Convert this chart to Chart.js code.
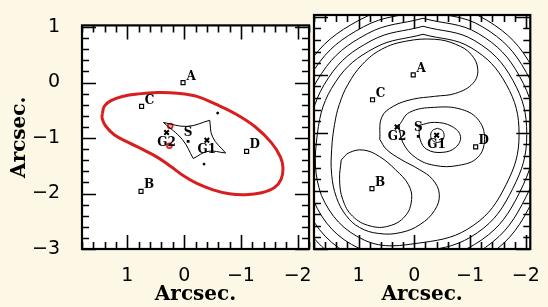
<!DOCTYPE html>
<html>
<head>
<meta charset="utf-8">
<title>Lens model</title>
<script src="https://cdn.jsdelivr.net/npm/chart.js"></script>
<style>
  html, body { margin: 0; padding: 0; background: #fdf8e5; }
  #wrap { position: relative; width: 548px; height: 307px; overflow: hidden; }
  #wrap canvas { position: absolute; top: 0; }
  #left { left: 0; }
  #right { left: 300px; }
</style>
</head>
<body>
<div id="wrap">
  <canvas id="left" width="320" height="307"></canvas>
  <canvas id="right" width="248" height="307"></canvas>
</div>
<script>
// positions in arcsec
const imageNames = ['A', 'B', 'C', 'D'];
const imageX = [0.02, 0.76, 0.75, -1.1];
const imageY = [0.0, -1.96, -0.43, -1.24];

const galaxyNames = ['G1', 'G2'];
const galaxyX = [-0.4, 0.31];
const galaxyY = [-1.04, -0.9];

const sourceNames = ['S'];
const sourceX = [-0.07];
const sourceY = [-1.06];

const xTickValues = [1, 0, -1, -2];
const yTickValues = [1, 0, -1, -2, -3];

// left panel: critical curve (red) and caustic (black)
const criticalCurve = [
  [1.444, -0.566], [1.404, -0.422], [1.29, -0.325], [1.09, -0.25], [0.805, -0.204],
  [0.462, -0.181], [0.12, -0.193], [-0.223, -0.25], [-0.565, -0.394], [-0.908, -0.566],
  [-1.25, -0.797], [-1.536, -1.083], [-1.695, -1.341], [-1.741, -1.543], [-1.707, -1.745],
  [-1.592, -1.893], [-1.365, -1.986], [-1.079, -2.02], [-0.793, -2.003], [-0.508, -1.934],
  [-0.223, -1.819], [0.005, -1.686], [0.234, -1.514], [0.462, -1.353], [0.69, -1.227],
  [0.976, -1.083], [1.233, -0.94], [1.387, -0.779], [1.444, -0.652], [1.444, -0.566]
];
const causticTop = [[0.365, -0.72], [-0.05, -0.79], [-0.45, -0.68]];
const causticRight = [[-0.45, -0.68], [-0.5, -0.98], [-0.73, -1.27]];
const causticBottom = [[-0.73, -1.27], [-0.42, -1.24], [-0.16, -1.37]];
const causticLeft = [[-0.16, -1.37], [0.03, -1.03], [0.365, -0.72]];
const extraImagesX = [-0.59, -0.35];
const extraImagesY = [-0.55, -1.47];
const redSpotsX = [0.245, 0.26];
const redSpotsY = [-0.785, -1.14];

// right panel: arrival-time contours
const contourG1Inner = [
  [-0.414, -0.922], [-0.5, -0.957], [-0.534, -1.043], [-0.5, -1.129], [-0.414, -1.164],
  [-0.328, -1.129], [-0.293, -1.043], [-0.328, -0.957], [-0.414, -0.922]
];
const contourG1Mid = [
  [-0.086, -0.871], [-0.362, -0.819], [-0.672, -0.888], [-0.828, -1.06], [-0.741, -1.25],
  [-0.5, -1.336], [-0.224, -1.284], [-0.103, -1.112], [-0.086, -0.871]
];
const contourG1Outer = [
  [0.276, -0.871], [0.086, -0.647], [-0.362, -0.56], [-0.845, -0.595], [-1.155, -0.784],
  [-1.259, -1.112], [-1.138, -1.422], [-0.793, -1.56], [-0.362, -1.56], [-0.017, -1.422],
  [0.207, -1.164], [0.276, -0.871]
];
const contourB = [
  [1.312, -1.466], [1.341, -1.807], [1.284, -2.148], [1.111, -2.432], [0.795, -2.603],
  [0.451, -2.603], [0.164, -2.432], [0.049, -2.148], [0.106, -1.892], [0.336, -1.637],
  [0.623, -1.409], [0.91, -1.296], [1.169, -1.341], [1.312, -1.466]
];
const contourLobes = [
  [0.621, -1.112], [0.586, -0.733], [0.379, -0.543], [0.034, -0.422], [-0.362, -0.371],
  [-0.741, -0.319], [-1.052, -0.147], [-1.138, 0.095], [-1.017, 0.353], [-0.741, 0.526],
  [-0.362, 0.612], [0.155, 0.578], [0.586, 0.44], [0.931, 0.181], [1.19, -0.164],
  [1.345, -0.509], [1.431, -0.853], [1.483, -1.284], [1.483, -1.716], [1.397, -2.112],
  [1.224, -2.422], [0.983, -2.629], [0.638, -2.733], [0.241, -2.716], [-0.103, -2.578],
  [-0.362, -2.336], [-0.448, -2.06], [-0.328, -1.802], [-0.086, -1.629], [0.241, -1.457],
  [0.5, -1.284], [0.621, -1.112]
];
const contourRing1 = [
  [-0.155, 0.698], [-1.017, 0.467], [-1.648, -0.164], [-1.879, -1.026], [-1.648, -1.888],
  [-1.06, -2.593], [-0.155, -2.888], [0.897, -2.848], [1.667, -2.078], [1.741, -1.026],
  [1.412, -0.121], [0.707, 0.467], [-0.155, 0.698]
];
const contourRing2 = [
  [-0.155, 0.836], [-1.086, 0.586], [-1.767, -0.095], [-2.017, -1.026], [-1.767, -1.957],
  [-1.133, -2.719], [-0.155, -3.036], [0.981, -2.993], [1.812, -2.162], [1.893, -1.026],
  [1.538, -0.048], [0.776, 0.586], [-0.155, 0.836]
];
const contourRing3 = [
  [-0.155, 0.974], [-1.155, 0.707], [-1.888, -0.026], [-2.155, -1.026], [-1.888, -2.026],
  [-1.205, -2.845], [-0.155, -3.186], [1.066, -3.138], [1.957, -2.247], [2.045, -1.026],
  [1.664, 0.024], [0.845, 0.707], [-0.155, 0.974]
];
const contourRing4 = [
  [-0.155, 1.112], [-1.224, 0.826], [-2.007, 0.043], [-2.293, -1.026], [-2.007, -2.095],
  [-1.278, -2.971], [-0.155, -3.334], [1.148, -3.284], [2.103, -2.329], [2.197, -1.026],
  [1.79, 0.097], [0.914, 0.826], [-0.155, 1.112]
];
const contourRing5 = [
  [-0.155, 1.25], [-1.293, 0.945], [-2.126, 0.112], [-2.431, -1.026], [-2.126, -2.164],
  [-1.35, -3.095], [-0.155, -3.484], [1.233, -3.429], [2.248, -2.414], [2.348, -1.026],
  [1.914, 0.169], [0.983, 0.945], [-0.155, 1.25]
];

const MINOR_STEP = 0.2;
const MAJOR_LEN = 14;
const MINOR_LEN = 7;

const tickFont = { family: 'DejaVu Sans', size: 19 };
const titleFont = { family: 'DejaVu Serif', size: 20, weight: 'bold' };
const labelFont = 'bold 12px "DejaVu Serif"';

function fmt(v) {
  return v < 0 ? '\u2212' + Math.abs(v) : String(v);
}

function curve(points, color, width) {
  return {
    data: points.map(([x, y]) => ({ x, y })),
    showLine: true,
    borderColor: color,
    borderWidth: width,
    pointRadius: 0,
    tension: 0.4,
    fill: false
  };
}

function markers(xs, ys, style) {
  return Object.assign({
    data: xs.map((x, i) => ({ x, y: ys[i] })),
    showLine: false
  }, style);
}

const panelFrame = {
  id: 'panelFrame',
  beforeDraw(chart) {
    const { ctx, chartArea: a } = chart;
    ctx.save();
    ctx.fillStyle = '#ffffff';
    ctx.fillRect(a.left, a.top, a.right - a.left, a.bottom - a.top);
    ctx.restore();
  },
  afterDatasetsDraw(chart) {
    const { ctx, chartArea: a, scales } = chart;
    const sx = scales.x, sy = scales.y;
    ctx.save();
    ctx.strokeStyle = '#000';
    ctx.lineWidth = 1.6;
    ctx.beginPath();
    for (let k = Math.ceil(sx.min / MINOR_STEP - 1e-6); k * MINOR_STEP <= sx.max + 1e-6; k++) {
      const v = k * MINOR_STEP;
      const len = Math.abs(v - Math.round(v)) < 1e-6 ? MAJOR_LEN : MINOR_LEN;
      const px = Math.round(sx.getPixelForValue(v)) + 0.5;
      ctx.moveTo(px, a.top); ctx.lineTo(px, a.top + len);
      ctx.moveTo(px, a.bottom); ctx.lineTo(px, a.bottom - len);
    }
    for (let k = Math.ceil(sy.min / MINOR_STEP - 1e-6); k * MINOR_STEP <= sy.max + 1e-6; k++) {
      const v = k * MINOR_STEP;
      const len = Math.abs(v - Math.round(v)) < 1e-6 ? MAJOR_LEN : MINOR_LEN;
      const py = Math.round(sy.getPixelForValue(v)) + 0.5;
      ctx.moveTo(a.left, py); ctx.lineTo(a.left + len, py);
      ctx.moveTo(a.right, py); ctx.lineTo(a.right - len, py);
    }
    ctx.stroke();
    ctx.lineWidth = 2.2;
    ctx.strokeRect(a.left, a.top, a.right - a.left, a.bottom - a.top);
    ctx.restore();
  }
};

const pointLabels = {
  id: 'pointLabels',
  afterDatasetsDraw(chart) {
    const { ctx, scales: { x, y } } = chart;
    ctx.save();
    ctx.fillStyle = '#000';
    ctx.font = labelFont;
    ctx.textBaseline = 'middle';
    ctx.textAlign = 'center';
    imageNames.forEach((n, i) => {
      ctx.fillText(n, x.getPixelForValue(imageX[i]) + 8, y.getPixelForValue(imageY[i]) - 6);
    });
    galaxyNames.forEach((n, i) => {
      ctx.fillText(n, x.getPixelForValue(galaxyX[i]), y.getPixelForValue(galaxyY[i]) + 10);
    });
    sourceNames.forEach((n, i) => {
      ctx.fillText(n, x.getPixelForValue(sourceX[i]), y.getPixelForValue(sourceY[i]) - 8);
    });
    ctx.restore();
  }
};

function pointSets() {
  return [
    markers(imageX, imageY, { pointStyle: 'rect', pointRadius: 2.8, pointBorderWidth: 1.2, borderColor: '#000', backgroundColor: '#fff' }),
    markers(galaxyX, galaxyY, { pointStyle: 'crossRot', pointRadius: 3.2, pointBorderWidth: 2, borderColor: '#000' }),
    markers(sourceX, sourceY, { pointStyle: 'rect', pointRadius: 2, pointBorderWidth: 0, backgroundColor: '#000', borderColor: '#000' })
  ];
}

function axes(xMin, xMax, showY) {
  return {
    x: {
      type: 'linear', reverse: true, min: xMin, max: xMax,
      afterBuildTicks: (s) => { s.ticks = xTickValues.map((v) => ({ value: v })); },
      afterFit: (s) => { s.height = 58; },
      grid: { display: false }, border: { display: false },
      ticks: { color: '#000', font: tickFont, padding: 8, maxRotation: 0, autoSkip: false, callback: fmt },
      title: { display: true, text: 'Arcsec.', color: '#000', font: titleFont, padding: { top: 0, bottom: 0 } }
    },
    y: {
      type: 'linear', min: -3, max: 1.03, display: showY,
      afterBuildTicks: (s) => { s.ticks = yTickValues.map((v) => ({ value: v })); },
      afterFit: (s) => { s.width = showY ? 82 : 0; },
      grid: { display: false }, border: { display: false },
      ticks: { color: '#000', font: tickFont, padding: 14, autoSkip: false, callback: fmt },
      title: { display: true, text: 'Arcsec.', color: '#000', font: titleFont, padding: { top: 8, bottom: 0 } }
    }
  };
}

const common = {
  responsive: false,
  animation: false,
  events: [],
  plugins: { legend: { display: false }, tooltip: { enabled: false } }
};

new Chart(document.getElementById('left'), {
  type: 'scatter',
  data: {
    datasets: [
      curve(criticalCurve, '#d81e1e', 3),
      curve(causticTop, '#000', 1),
      curve(causticRight, '#000', 1),
      curve(causticBottom, '#000', 1),
      curve(causticLeft, '#000', 1),
      markers(extraImagesX, extraImagesY, { pointStyle: 'circle', pointRadius: 1, backgroundColor: '#000', borderColor: '#000' }),
      markers(redSpotsX, redSpotsY, { pointStyle: 'circle', pointRadius: 2.5, pointBorderWidth: 1.5, borderColor: '#d81e1e', backgroundColor: 'rgba(216,30,30,0.4)' }),
      ...pointSets()
    ]
  },
  options: Object.assign({}, common, {
    layout: { padding: { top: 15, right: 6, left: 0, bottom: 0 } },
    scales: axes(-2.2, 1.8, true)
  }),
  plugins: [panelFrame, pointLabels]
});

new Chart(document.getElementById('right'), {
  type: 'scatter',
  data: {
    datasets: [
      curve(contourG1Inner, '#000', 1),
      curve(contourG1Mid, '#000', 1),
      curve(contourG1Outer, '#000', 1),
      curve(contourB, '#000', 1),
      curve(contourLobes, '#000', 1),
      curve(contourRing1, '#000', 1),
      curve(contourRing2, '#000', 1),
      curve(contourRing3, '#000', 1),
      curve(contourRing4, '#000', 1),
      curve(contourRing5, '#000', 1),
      ...pointSets()
    ]
  },
  options: Object.assign({}, common, {
    layout: { padding: { top: 15, right: 8, left: 14, bottom: 0 } },
    scales: axes(-2.08, 1.8, false)
  }),
  plugins: [panelFrame, pointLabels]
});
</script>
</body>
</html>
